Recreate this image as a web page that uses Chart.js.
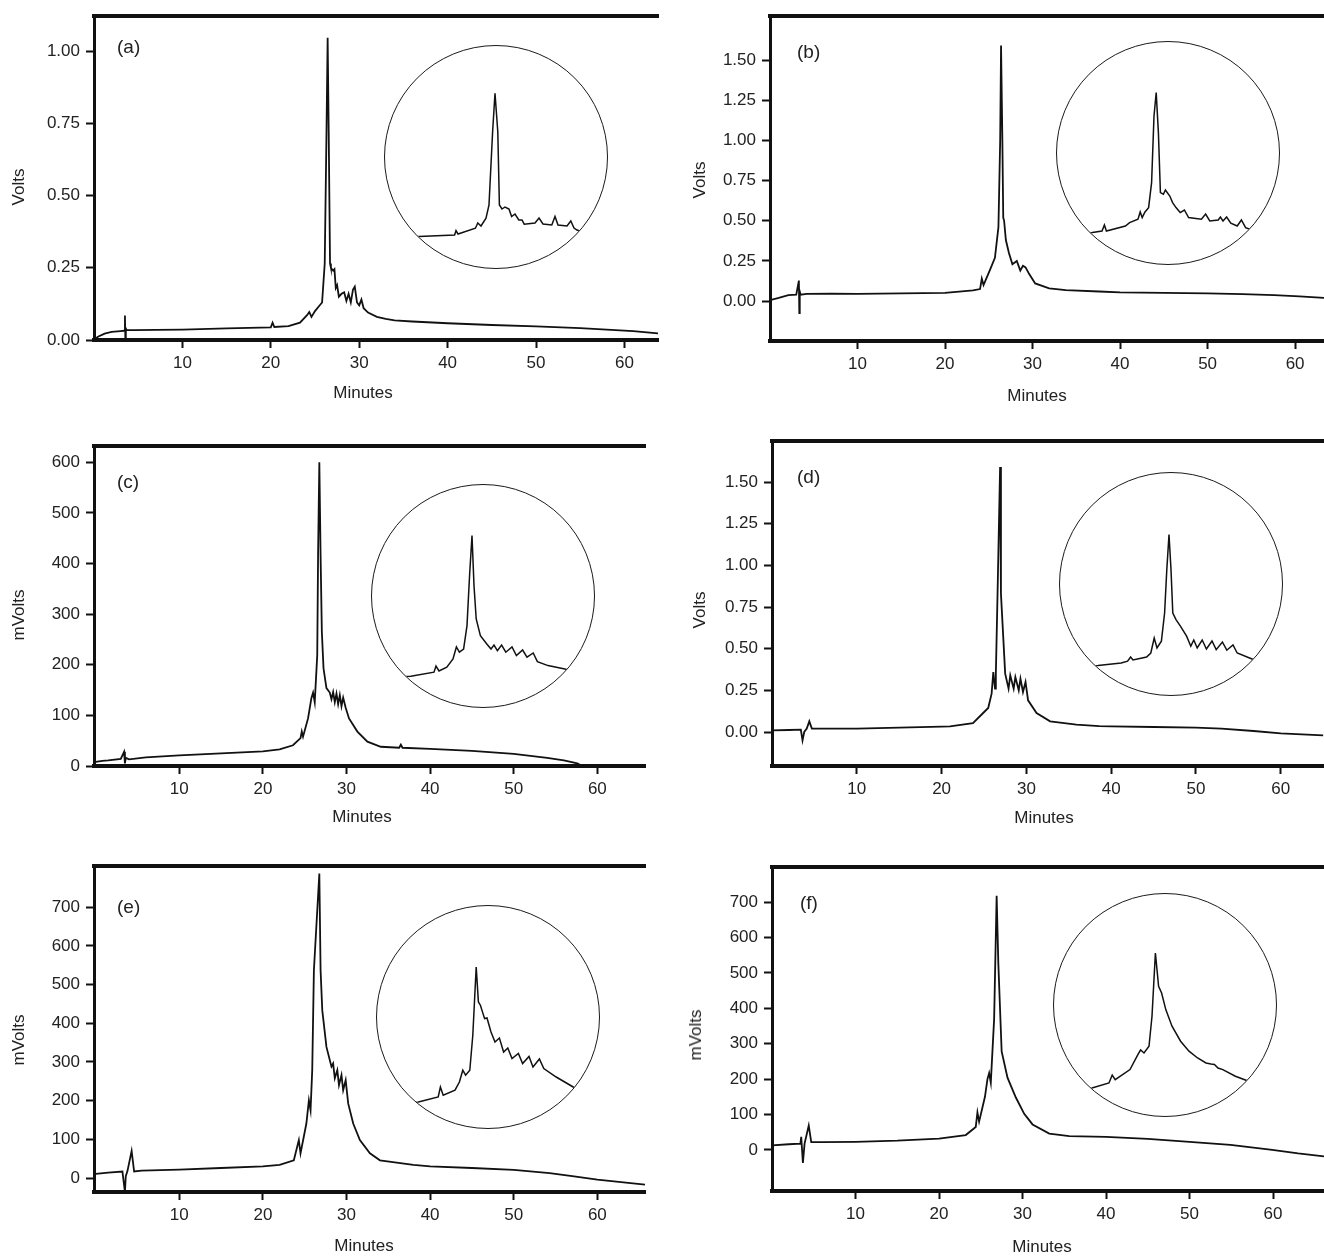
<!DOCTYPE html>
<html>
<head>
<meta charset="utf-8">
<script src="https://cdn.jsdelivr.net/npm/chart.js@4.4.1/dist/chart.umd.min.js"></script>
<style>
  body { margin: 0; background: #fff; }
  #page { position: relative; width: 1324px; height: 1256px; overflow: hidden;
          font-family: "Liberation Sans", Arial, sans-serif; color: #222; }
  canvas.panel { position: absolute; }
  .inset { position: absolute; width: 222px; height: 222px; border: 1.8px solid #1a1a1a;
           border-radius: 50%; overflow: hidden; background: #fff; }
  .lbl { position: absolute; font-size: 17px; line-height: 20px; white-space: nowrap; }
  .tag { font-size: 19px; transform: translate(0, -50%); }
  .xtitle { transform: translate(-50%, -50%); }
  .ytitle { transform: translate(-50%, -50%) rotate(-90deg); }
</style>
</head>
<body>
<div id="page"></div>
<script>
// tick labels
const xTicks = [10, 20, 30, 40, 50, 60];
const voltTicksA = [0, 0.25, 0.5, 0.75, 1.0];
const voltTicks = [0, 0.25, 0.5, 0.75, 1.0, 1.25, 1.5];
const mvTicksC = [0, 100, 200, 300, 400, 500, 600];
const mvTicks = [0, 100, 200, 300, 400, 500, 600, 700];

// (a) Volts
const aTime = [0, 0.5, 1.2, 2.0, 3.0, 3.4, 3.5, 3.55, 3.6, 3.7, 4.5, 7, 10, 15, 20, 20.2, 20.4, 22, 23.3, 24.1,
  24.35, 24.6, 25.0, 25.4, 25.8, 26.1, 26.3, 26.43, 26.55, 26.7, 26.8, 27.05, 27.2, 27.35, 27.5, 27.7, 28.0, 28.3,
  28.55, 28.8, 29.05, 29.3, 29.5, 29.75, 30.0, 30.25, 30.5, 31, 32, 33, 34, 36, 40, 45, 50, 55, 58, 61, 63.8];
const aVolts = [0.002, 0.012, 0.022, 0.028, 0.031, 0.032, 0.085, 0.0, 0.04, 0.034, 0.034, 0.035, 0.036, 0.04, 0.044,
  0.06, 0.045, 0.048, 0.06, 0.086, 0.097, 0.08, 0.1, 0.115, 0.13, 0.265, 0.72, 1.046, 0.72, 0.265, 0.25, 0.24, 0.245,
  0.18, 0.19, 0.15, 0.16, 0.165, 0.135, 0.16, 0.13, 0.175, 0.185, 0.13, 0.12, 0.14, 0.11, 0.095, 0.08, 0.073, 0.068,
  0.064, 0.058, 0.052, 0.047, 0.041, 0.036, 0.031, 0.023];

// (b) Volts
const bTime = [0, 1.0, 2.1, 3.0, 3.3, 3.35, 3.4, 3.5, 4.2, 7, 10, 15, 20, 23.2, 24.0, 24.2, 24.4, 25.1, 25.7, 26.1,
  26.3, 26.4, 26.55, 26.65, 26.75, 26.95, 27.3, 27.7, 28.2, 28.6, 28.9, 29.2, 29.6, 30.3, 31.9, 33.8, 37.6, 40, 45,
  50, 54, 57.6, 60.5, 63.3];
const bVolts = [0.006, 0.02, 0.037, 0.04, 0.128, -0.075, 0.06, 0.04, 0.045, 0.047, 0.045, 0.048, 0.052, 0.067, 0.075,
  0.14, 0.1, 0.19, 0.27, 0.46, 1.0, 1.59, 1.0, 0.52, 0.5, 0.38, 0.3, 0.23, 0.25, 0.19, 0.22, 0.21, 0.17, 0.11, 0.08,
  0.068, 0.06, 0.055, 0.052, 0.048, 0.044, 0.038, 0.03, 0.02];

// (c) mVolts
const cTime = [0, 0.8, 1.5, 3.0, 3.4, 3.5, 3.6, 4.0, 6, 10, 15, 20, 22, 23.6, 24.5, 24.65, 24.8, 25.4, 25.8, 26.0,
  26.2, 26.5, 26.6, 26.75, 26.9, 27.05, 27.25, 27.6, 28.0, 28.2, 28.4, 28.6, 28.8, 29.0, 29.2, 29.4, 29.6, 29.9, 30.3,
  31.3, 32.5, 34.1, 36.3, 36.5, 36.7, 40, 45, 50, 54, 56, 57.6, 58.2, 60, 65.7];
const cMv = [8, 10, 11, 14, 28, 5, 16, 13, 17, 21, 25, 29, 33, 41, 55, 68, 58, 94, 134, 145, 126, 219, 416, 600, 416,
  265, 193, 154, 145, 132, 146, 126, 143, 122, 140, 118, 135, 115, 94, 68, 48, 38, 36, 42, 36, 34, 30, 24, 16, 11, 5,
  0, -10, -30];

// (d) Volts
const dTime = [0, 2, 3.4, 3.6, 3.8, 4.1, 4.4, 4.7, 7, 10, 15, 20, 21, 23.7, 24.9, 25.5, 25.9, 26.1, 26.3, 26.4, 26.6,
  26.9, 27.0, 27.5, 27.9, 28.1, 28.5, 28.7, 29.1, 29.3, 29.6, 29.9, 30.2, 31.2, 32.8, 35.9, 38.6, 40, 45, 50, 53, 56.8,
  60, 65];
const dVolts = [0.01, 0.012, 0.014, -0.05, 0.0, 0.02, 0.064, 0.02, 0.02, 0.02, 0.026, 0.032, 0.034, 0.053, 0.114,
  0.144, 0.23, 0.36, 0.26, 0.35, 0.83, 1.59, 0.83, 0.35, 0.26, 0.34, 0.26, 0.33, 0.25, 0.32, 0.24, 0.3, 0.19, 0.114,
  0.064, 0.044, 0.035, 0.034, 0.03, 0.026, 0.02, 0.006, -0.008, -0.02];

// (e) mVolts
const eTime = [0, 1.5, 3.2, 3.5, 3.6, 3.8, 4.3, 4.6, 5.5, 10, 15, 20, 22, 23.7, 24.3, 24.5, 25.2, 25.5, 25.7, 25.9,
  26.1, 26.75, 26.9, 27.1, 27.6, 28.2, 28.4, 28.6, 28.9, 29.1, 29.4, 29.6, 29.9, 30.2, 30.8, 31.6, 32.8, 34.0, 38.0,
  40, 45, 50, 54.3, 57, 60, 65.7];
const eMv = [11, 14, 17, -36, 5, 18, 70, 17, 19, 22, 26, 30, 34, 46, 98, 64, 141, 201, 175, 279, 537, 787, 537, 434,
  339, 288, 296, 258, 279, 240, 266, 227, 253, 193, 141, 98, 64, 46, 34, 30, 26, 21, 13, 5, -4, -17];

// (f) mVolts
const fTime = [0, 2, 3.4, 3.5, 3.7, 3.9, 4.4, 4.7, 6, 10, 15, 20, 23.2, 24.4, 24.6, 24.8, 25.5, 25.8, 26.0, 26.2,
  26.6, 26.9, 27.1, 27.5, 28.2, 29.2, 30.2, 31.2, 33.2, 35.6, 40, 45, 50, 54.9, 59.9, 63, 66.1];
const fMv = [13, 16, 18, 37, -37, 18, 69, 22, 22, 23, 26, 32, 42, 65, 106, 80, 150, 200, 217, 190, 370, 718, 528, 278,
  204, 148, 102, 72, 46, 39, 37, 31, 23, 14, 0, -10, -18];

// magnified views of the main peak (minutes, relative response)
const insetATime = [20, 21.69, 23.48, 23.55, 23.65, 24.52, 24.64, 24.8, 25.05, 25.2, 25.38, 25.5, 25.64, 25.72, 25.85,
  26.0, 26.2, 26.33, 26.5, 26.69, 26.85, 26.96, 27.5, 27.7, 27.9, 28.34, 28.5, 28.65, 29.1, 29.29, 29.45, 29.6, 30.5];
const insetASignal = [0.145, 0.157, 0.165, 0.187, 0.17, 0.199, 0.225, 0.21, 0.249, 0.315, 0.68, 0.874, 0.68, 0.315,
  0.295, 0.305, 0.295, 0.257, 0.27, 0.24, 0.24, 0.219, 0.225, 0.25, 0.22, 0.215, 0.258, 0.215, 0.21, 0.235, 0.2, 0.19,
  0.16];
const insetBTime = [20, 21.77, 22.25, 22.37, 22.47, 23.42, 23.63, 24.05, 24.16, 24.26, 24.4, 24.58, 24.73, 24.85,
  24.96, 25.07, 25.17, 25.32, 25.42, 25.64, 25.78, 25.95, 26.16, 26.37, 26.58, 27.22, 27.43, 27.64, 28.06, 28.17, 28.3,
  28.48, 28.69, 29.01, 29.22, 29.43, 29.64, 30.75];
const insetBSignal = [0.15, 0.157, 0.165, 0.195, 0.165, 0.19, 0.207, 0.224, 0.26, 0.232, 0.26, 0.282, 0.407, 0.74,
  0.857, 0.657, 0.357, 0.349, 0.37, 0.34, 0.307, 0.282, 0.257, 0.27, 0.232, 0.224, 0.25, 0.215, 0.22, 0.235, 0.215,
  0.235, 0.204, 0.19, 0.22, 0.182, 0.174, 0.135];
const insetCTime = [20, 21.94, 23.1, 23.2, 23.35, 23.74, 24.05, 24.22, 24.37, 24.58, 24.75, 24.88, 25.0, 25.1, 25.21,
  25.42, 25.74, 25.95, 26.1, 26.27, 26.48, 26.69, 27.0, 27.22, 27.53, 27.75, 28.06, 28.27, 28.8, 29.64, 30.75];
const insetCSignal = [0.145, 0.154, 0.174, 0.205, 0.18, 0.199, 0.24, 0.3, 0.274, 0.29, 0.407, 0.66, 0.857, 0.607,
  0.44, 0.357, 0.315, 0.29, 0.31, 0.282, 0.31, 0.274, 0.3, 0.257, 0.285, 0.249, 0.27, 0.227, 0.207, 0.19, 0.16];
const insetDTime = [20, 21.9, 23.06, 23.38, 23.53, 23.65, 24.33, 24.54, 24.71, 24.85, 25.07, 25.23, 25.34, 25.45,
  25.55, 25.64, 25.8, 26.02, 26.33, 26.54, 26.69, 26.86, 27.11, 27.32, 27.6, 27.81, 28.12, 28.34, 28.65, 28.86, 29.6,
  30.75];
const insetDSignal = [0.14, 0.147, 0.16, 0.169, 0.19, 0.175, 0.19, 0.21, 0.285, 0.235, 0.269, 0.41, 0.627, 0.802,
  0.627, 0.41, 0.377, 0.344, 0.294, 0.244, 0.275, 0.235, 0.275, 0.23, 0.27, 0.227, 0.265, 0.224, 0.25, 0.21, 0.18,
  0.135];
const insetETime = [20, 22.07, 23.06, 23.17, 23.31, 23.9, 24.12, 24.29, 24.43, 24.64, 24.79, 24.96, 25.07, 25.17,
  25.38, 25.5, 25.7, 25.9, 26.12, 26.33, 26.54, 26.75, 27.07, 27.28, 27.6, 27.8, 28.12, 28.34, 28.96, 29.81, 31.0];
const insetESignal = [0.11, 0.13, 0.155, 0.205, 0.164, 0.189, 0.23, 0.289, 0.264, 0.289, 0.464, 0.805, 0.63, 0.614,
  0.547, 0.55, 0.48, 0.43, 0.45, 0.38, 0.4, 0.347, 0.373, 0.322, 0.358, 0.305, 0.345, 0.297, 0.255, 0.205, 0.135];
const insetFTime = [20, 21.9, 22.75, 22.91, 23.06, 23.8, 24.22, 24.33, 24.5, 24.75, 24.9, 25.07, 25.23, 25.38, 25.59,
  25.9, 26.33, 26.75, 27.18, 27.6, 27.85, 28.02, 28.2, 28.44, 29.07, 29.6, 30.75];
const insetFSignal = [0.1, 0.14, 0.165, 0.205, 0.182, 0.232, 0.312, 0.33, 0.315, 0.349, 0.499, 0.815, 0.649, 0.615,
  0.532, 0.449, 0.374, 0.324, 0.29, 0.265, 0.26, 0.258, 0.24, 0.232, 0.199, 0.179, 0.13];

const page = document.getElementById('page');
const ink = '#111';
const volts = v => v.toFixed(2);
const mv = v => String(v);

function addText(text, cls, x, y) {
    const el = document.createElement('div');
    el.className = 'lbl ' + cls;
    el.textContent = text;
    el.style.left = x + 'px';
    el.style.top = y + 'px';
    page.appendChild(el);
}

function drawPanel(p) {
    const canvas = document.createElement('canvas');
    canvas.className = 'panel';
    canvas.width = p.w;
    canvas.height = p.h;
    canvas.style.left = p.left + 'px';
    canvas.style.top = p.top + 'px';
    page.appendChild(canvas);

    const tickFont = { family: 'Liberation Sans', size: 17 };

    new Chart(canvas, {
        type: 'line',
        data: {
            datasets: [{
                data: p.time.map((t, i) => ({ x: t, y: p.signal[i] })),
                borderColor: ink,
                borderWidth: 1.8,
                pointRadius: 0,
                tension: 0
            }]
        },
        options: {
            responsive: false,
            animation: false,
            devicePixelRatio: 1,
            layout: { padding: { top: p.padTop, right: p.padRight, left: 0, bottom: 0 } },
            plugins: { legend: { display: false }, tooltip: { enabled: false } },
            scales: {
                x: {
                    type: 'linear',
                    min: p.xMin,
                    max: p.xMax,
                    afterBuildTicks: s => { s.ticks = xTicks.map(v => ({ value: v })); },
                    afterFit: s => { s.height = p.axisH; },
                    ticks: { font: tickFont, color: '#222', padding: 5, maxRotation: 0, autoSkip: false },
                    grid: { drawOnChartArea: false, tickLength: 8, tickWidth: 2, tickColor: ink },
                    border: { width: 4, color: ink }
                },
                top: {
                    type: 'linear',
                    axis: 'x',
                    position: 'top',
                    ticks: { display: false },
                    grid: { drawOnChartArea: false, drawTicks: false },
                    border: { width: 4, color: ink },
                    afterFit: s => { s.height = 0; }
                },
                y: {
                    min: p.yMin,
                    max: p.yMax,
                    afterBuildTicks: s => { s.ticks = p.yTicks.map(v => ({ value: v })); },
                    afterFit: s => { s.width = p.axisW; },
                    ticks: { font: tickFont, color: '#222', padding: 6, autoSkip: false, callback: p.fmt },
                    grid: { drawOnChartArea: false, tickLength: 8, tickWidth: 2, tickColor: ink },
                    border: { width: 3, color: ink }
                }
            }
        }
    });
}

function drawInset(cx, cy, time, signal) {
    const holder = document.createElement('div');
    holder.className = 'inset';
    holder.style.left = (cx - 112.8) + 'px';
    holder.style.top = (cy - 112.8) + 'px';
    const canvas = document.createElement('canvas');
    canvas.width = 222;
    canvas.height = 222;
    holder.appendChild(canvas);
    page.appendChild(holder);

    new Chart(canvas, {
        type: 'line',
        data: {
            datasets: [{
                data: time.map((t, i) => ({ x: t, y: signal[i] })),
                borderColor: ink,
                borderWidth: 1.5,
                pointRadius: 0,
                tension: 0
            }]
        },
        options: {
            responsive: false,
            animation: false,
            devicePixelRatio: 1,
            layout: { padding: 0 },
            plugins: { legend: { display: false }, tooltip: { enabled: false } },
            scales: {
                x: { type: 'linear', display: false, min: 20, max: 31.1 },
                y: { display: false, min: 0, max: 1.11 }
            }
        }
    });
}

drawPanel({ left: 0, top: 0, w: 662, h: 410, axisW: 94, axisH: 70, padTop: 15, padRight: 4,
    xMin: 0, xMax: 63.8, yMin: 0, yMax: 1.121, yTicks: voltTicksA, fmt: volts, time: aTime, signal: aVolts });
drawPanel({ left: 662, top: 0, w: 662, h: 410, axisW: 108, axisH: 69, padTop: 15, padRight: 0,
    xMin: 0, xMax: 63.3, yMin: -0.248, yMax: 1.773, yTicks: voltTicks, fmt: volts, time: bTime, signal: bVolts });
drawPanel({ left: 0, top: 420, w: 662, h: 420, axisW: 94, axisH: 74, padTop: 26, padRight: 17,
    xMin: -0.2, xMax: 65.7, yMin: 0, yMax: 632, yTicks: mvTicksC, fmt: mv, time: cTime, signal: cMv });
drawPanel({ left: 662, top: 420, w: 662, h: 420, axisW: 110, axisH: 74, padTop: 21, padRight: 0,
    xMin: 0, xMax: 65.1, yMin: -0.204, yMax: 1.746, yTicks: voltTicks, fmt: volts, time: dTime, signal: dVolts });
drawPanel({ left: 0, top: 850, w: 662, h: 406, axisW: 94, axisH: 64, padTop: 16, padRight: 17,
    xMin: -0.2, xMax: 65.7, yMin: -36, yMax: 806, yTicks: mvTicks, fmt: mv, time: eTime, signal: eMv });
drawPanel({ left: 662, top: 850, w: 662, h: 406, axisW: 110, axisH: 65, padTop: 17, padRight: 0,
    xMin: 0, xMax: 66.1, yMin: -116, yMax: 799, yTicks: mvTicks, fmt: mv, time: fTime, signal: fMv });

drawInset(497, 158, insetATime, insetASignal);
drawInset(1169, 154, insetBTime, insetBSignal);
drawInset(484, 597, insetCTime, insetCSignal);
drawInset(1172, 585, insetDTime, insetDSignal);
drawInset(489, 1018, insetETime, insetESignal);
drawInset(1166, 1006, insetFTime, insetFSignal);

// panel letters and axis titles
addText('(a)', 'tag', 117, 47);
addText('(b)', 'tag', 797, 52);
addText('(c)', 'tag', 117, 482);
addText('(d)', 'tag', 797, 477);
addText('(e)', 'tag', 117, 907);
addText('(f)', 'tag', 800, 903);

addText('Volts', 'ytitle', 19, 187);
addText('Volts', 'ytitle', 700, 180);
addText('mVolts', 'ytitle', 19, 615);
addText('Volts', 'ytitle', 700, 610);
addText('mVolts', 'ytitle', 19, 1040);
addText('mVolts', 'ytitle', 696, 1035);

addText('Minutes', 'xtitle', 363, 393);
addText('Minutes', 'xtitle', 1037, 396);
addText('Minutes', 'xtitle', 362, 817);
addText('Minutes', 'xtitle', 1044, 818);
addText('Minutes', 'xtitle', 364, 1246);
addText('Minutes', 'xtitle', 1042, 1247);
</script>
</body>
</html>
